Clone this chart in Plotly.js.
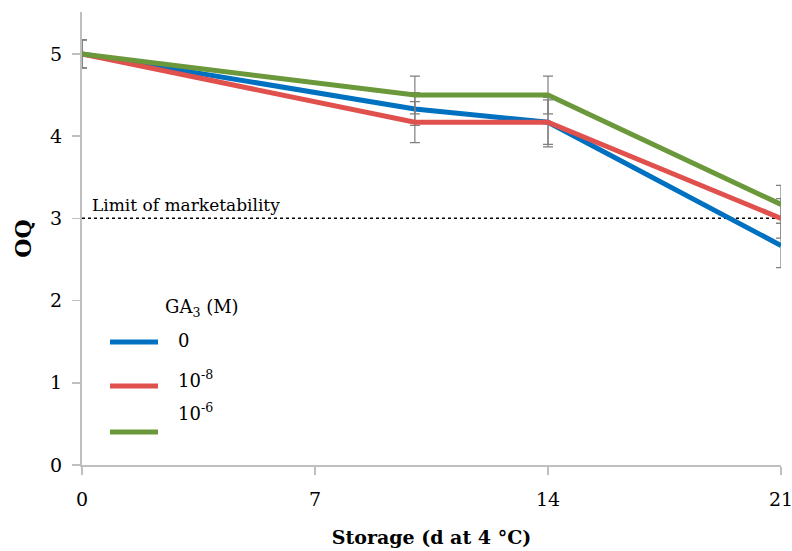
<!DOCTYPE html>
<html>
<head>
<meta charset="utf-8">
<script src="https://cdn.plot.ly/plotly-3.0.1.min.js"></script>
<style>html,body{margin:0;padding:0;background:#fff;}#chart{width:792px;height:551px;}</style>
</head>
<body>
<div id="chart"></div>
<script>
const days = [0, 10, 14, 21];
const seriesNames = ["0", "10<sup>-8</sup>", "10<sup>-6</sup>"];
const oq_0 = [5.0, 4.33, 4.17, 2.67];
const oq_1e8 = [5.0, 4.17, 4.17, 3.0];
const oq_1e6 = [5.0, 4.5, 4.5, 3.17];
const err_0 = [0.17, 0.2, 0.3, 0.27];
const err_1e8 = [0.17, 0.25, 0.27, 0.24];
const err_1e6 = [0.17, 0.23, 0.23, 0.23];
const colors = ["#0070C0", "#E0504D", "#6A983A"];
const limitValue = 3;
const xTicks = [0, 7, 14, 21];
const yTicks = [0, 1, 2, 3, 4, 5];

const serif = "'DejaVu Serif', 'Liberation Serif', serif";
const values = [oq_0, oq_1e8, oq_1e6];
const errs = [err_0, err_1e8, err_1e6];

const traces = [];
traces.push({
  x: [xTicks[0], xTicks[xTicks.length - 1]], y: [limitValue, limitValue],
  mode: "lines", line: {color: "#000", width: 1.5, dash: "dot"},
  showlegend: false, hoverinfo: "skip"
});
values.forEach((v, i) => {
  traces.push({
    x: days, y: v, mode: "lines", name: seriesNames[i],
    line: {color: colors[i], width: 5},
    error_y: {type: "data", array: errs[i], visible: true, color: "#7f7f7f", thickness: 1.2, width: 5},
    showlegend: false
  });
});

const shapes = [];
const annotations = [];
// legend samples
const legY = [342, 386, 432];
const txtY = [341, 379, 412];
for (let i = 0; i < 3; i++) {
  shapes.push({type: "line", xref: "paper", yref: "paper",
    x0: (110 - 82) / 699, x1: (158 - 82) / 699,
    y0: (465 - legY[i]) / 453, y1: (465 - legY[i]) / 453,
    line: {color: colors[i], width: 5}});
  annotations.push({xref: "paper", yref: "paper", x: (176 - 82) / 699, y: (465 - txtY[i]) / 453,
    xanchor: "left", yanchor: "middle", showarrow: false, text: seriesNames[i],
    font: {family: serif, size: 18, color: "#000"}});
}
annotations.push({xref: "paper", yref: "paper", x: (163 - 82) / 699, y: (465 - 308) / 453,
  xanchor: "left", yanchor: "middle", showarrow: false, text: "GA<sub>3</sub> (M)",
  font: {family: serif, size: 18, color: "#000"}});
annotations.push({xref: "x", yref: "y", x: 0.25, y: limitValue, yshift: 13,
  xanchor: "left", yanchor: "middle", showarrow: false, text: "Limit of marketability",
  font: {family: serif, size: 17, color: "#000"}});

const layout = {
  width: 792, height: 551,
  margin: {l: 82, r: 11, t: 12, b: 86},
  paper_bgcolor: "#fff", plot_bgcolor: "#fff",
  showlegend: false,
  font: {family: serif, size: 19, color: "#000"},
  xaxis: {
    range: [0, 21], tickvals: xTicks, ticktext: xTicks.map(String),
    showgrid: false, zeroline: false, showline: true, linecolor: "#BFBFBF", linewidth: 2,
    ticks: "outside", ticklen: 8, tickcolor: "#BFBFBF", tickwidth: 1.5,
    tickfont: {family: serif, size: 19}, ticklabelstandoff: 8, ticklabeloverflow: "allow",
    title: {text: "<b>Storage (d at 4 °C)</b>", font: {family: serif, size: 19}, standoff: 22}
  },
  yaxis: {
    range: [0, 5.51], tickvals: yTicks, ticktext: yTicks.map(String),
    showgrid: false, zeroline: false, showline: true, linecolor: "#BFBFBF", linewidth: 2,
    ticks: "outside", ticklen: 8, tickcolor: "#BFBFBF", tickwidth: 1.5,
    tickfont: {family: serif, size: 19}, ticklabelstandoff: 6,
    title: {text: "<b>OQ</b>", font: {family: serif, size: 22}, standoff: 12}
  },
  shapes: shapes,
  annotations: annotations
};
Plotly.newPlot("chart", traces, layout, {displayModeBar: false, staticPlot: true});
</script>
</body>
</html>
